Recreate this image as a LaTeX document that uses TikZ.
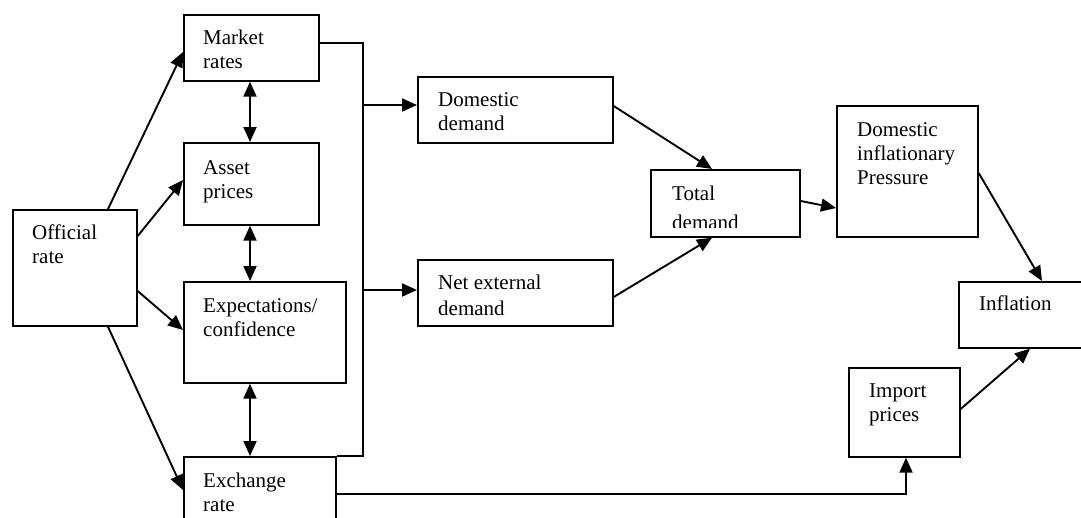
\documentclass[tikz,border=0pt]{standalone}
\usepackage{fontspec}
\setmainfont{Liberation Serif}
\usetikzlibrary{arrows.meta,calc}
\begin{document}
\begin{tikzpicture}[x=1pt,y=-1pt,
  box/.style={draw,line width=1.7pt,anchor=north west,inner sep=0pt},
  lbl/.style={anchor=base west,inner sep=0pt,align=left,font=\fontsize{21}{24}\selectfont},
  arr/.style={line width=1.9pt,-{Triangle[length=15pt,width=13pt]}},
  darr/.style={line width=1.9pt,{Triangle[length=15pt,width=13pt]}-{Triangle[length=15pt,width=13pt]}},
  ln/.style={line width=1.7pt}]
\useasboundingbox (0,0) rectangle (1081,517);
\clip (0,0) rectangle (1081,517);
\fill[white] (0,0) rectangle (1081,517);

% boxes
\node[box,minimum width=135pt,minimum height=66pt] (mr) at (183,14) {};
\node[box,minimum width=135pt,minimum height=82pt] (ap) at (183,142) {};
\node[box,minimum width=124pt,minimum height=116pt] (off) at (12,209) {};
\node[box,minimum width=162pt,minimum height=101pt] (ex) at (183,281) {};
\node[box,minimum width=152pt,minimum height=90pt] (xr) at (183,456) {};
\node[box,minimum width=195pt,minimum height=66pt] (dd) at (417,76) {};
\node[box,minimum width=195pt,minimum height=66pt] (ne) at (417,259) {};
\node[box,minimum width=149pt,minimum height=67pt] (td) at (650,169) {};
\node[box,minimum width=141pt,minimum height=131pt] (dip) at (836,105) {};
\node[box,minimum width=140pt,minimum height=66pt] (inf) at (958,281) {};
\node[box,minimum width=111pt,minimum height=89pt] (imp) at (848,367) {};

% labels (anchor = baseline of last line)
\node[lbl] (tmr) at (203,68) {Market\\rates};
\node[lbl] (tap) at (203,198) {Asset\\prices};
\node[lbl] (toff) at (32,263) {Official\\rate};
\node[lbl] (tex) at (203,336) {Expectations/\\confidence};
\node[lbl] (txr) at (203,511) {Exchange\\rate};
\node[lbl] (tdd) at (438,130) {Domestic\\demand};
\node[lbl,font=\fontsize{21}{26}\selectfont] (tne) at (438,315) {Net external\\demand};
\begin{scope}
  \clip (td.north west) rectangle ($(td.south east)+(0,-10)$);
  \node[lbl,font=\fontsize{21}{29}\selectfont] (ttd) at (672,229) {Total\\demand};
\end{scope}
\node[lbl] (tdip) at (857,184) {Domestic\\inflationary\\Pressure};
\node[lbl] (tinf) at (979,310) {Inflation};
\node[lbl] (timp) at (869,421) {Import\\prices};

% bracket
\coordinate (b1) at (363,43);
\coordinate (b2) at (363,456);
\draw[ln] (mr.east |- b1) -- (b1) -- (b2) -- (xr.north east);
\draw[arr] (b1 |- dd.north west) ++(0,29) coordinate (bd) -- ($(dd.north west)+(0,29)$);
\draw[arr] (b1 |- ne.north west) ++(0,31) coordinate (bn) -- ($(ne.north west)+(0,31)$);

% official rate arrows
\draw[arr] ($(off.north west)+(96,0)$) -- ($(mr.north west)+(0,38)$);
\draw[arr] ($(off.north east)+(0,27)$) -- ($(ap.north west)+(0,38)$);
\draw[arr] ($(off.north east)+(0,82)$) -- ($(ex.north west)+(0,49)$);
\draw[arr] ($(off.south west)+(96,0)$) -- ($(xr.north west)+(0,34)$);

% double arrows
\draw[darr] ($(mr.south west)+(67,0)$) -- ($(ap.north west)+(67,0)$);
\draw[darr] ($(ap.south west)+(67,0)$) -- ($(ex.north west)+(67,0)$);
\draw[darr] ($(ex.south west)+(67,0)$) -- ($(xr.north west)+(67,0)$);

% demand arrows
\draw[arr] ($(dd.north east)+(0,30)$) -- ($(td.north west)+(62,0)$);
\draw[arr] ($(ne.north east)+(0,38)$) -- ($(td.south west)+(62,0)$);
\draw[arr] ($(td.north east)+(0,32)$) -- ($(dip.north west)+(0,103)$);
\draw[arr] ($(dip.north east)+(0,68)$) -- ($(inf.north west)+(84,0)$);
\draw[arr] ($(imp.north east)+(0,42)$) -- ($(inf.south west)+(72,0)$);
\draw[arr] ($(xr.north east)+(0,38)$) -| ($(imp.south west)+(58,0)$);
\end{tikzpicture}
\end{document}
